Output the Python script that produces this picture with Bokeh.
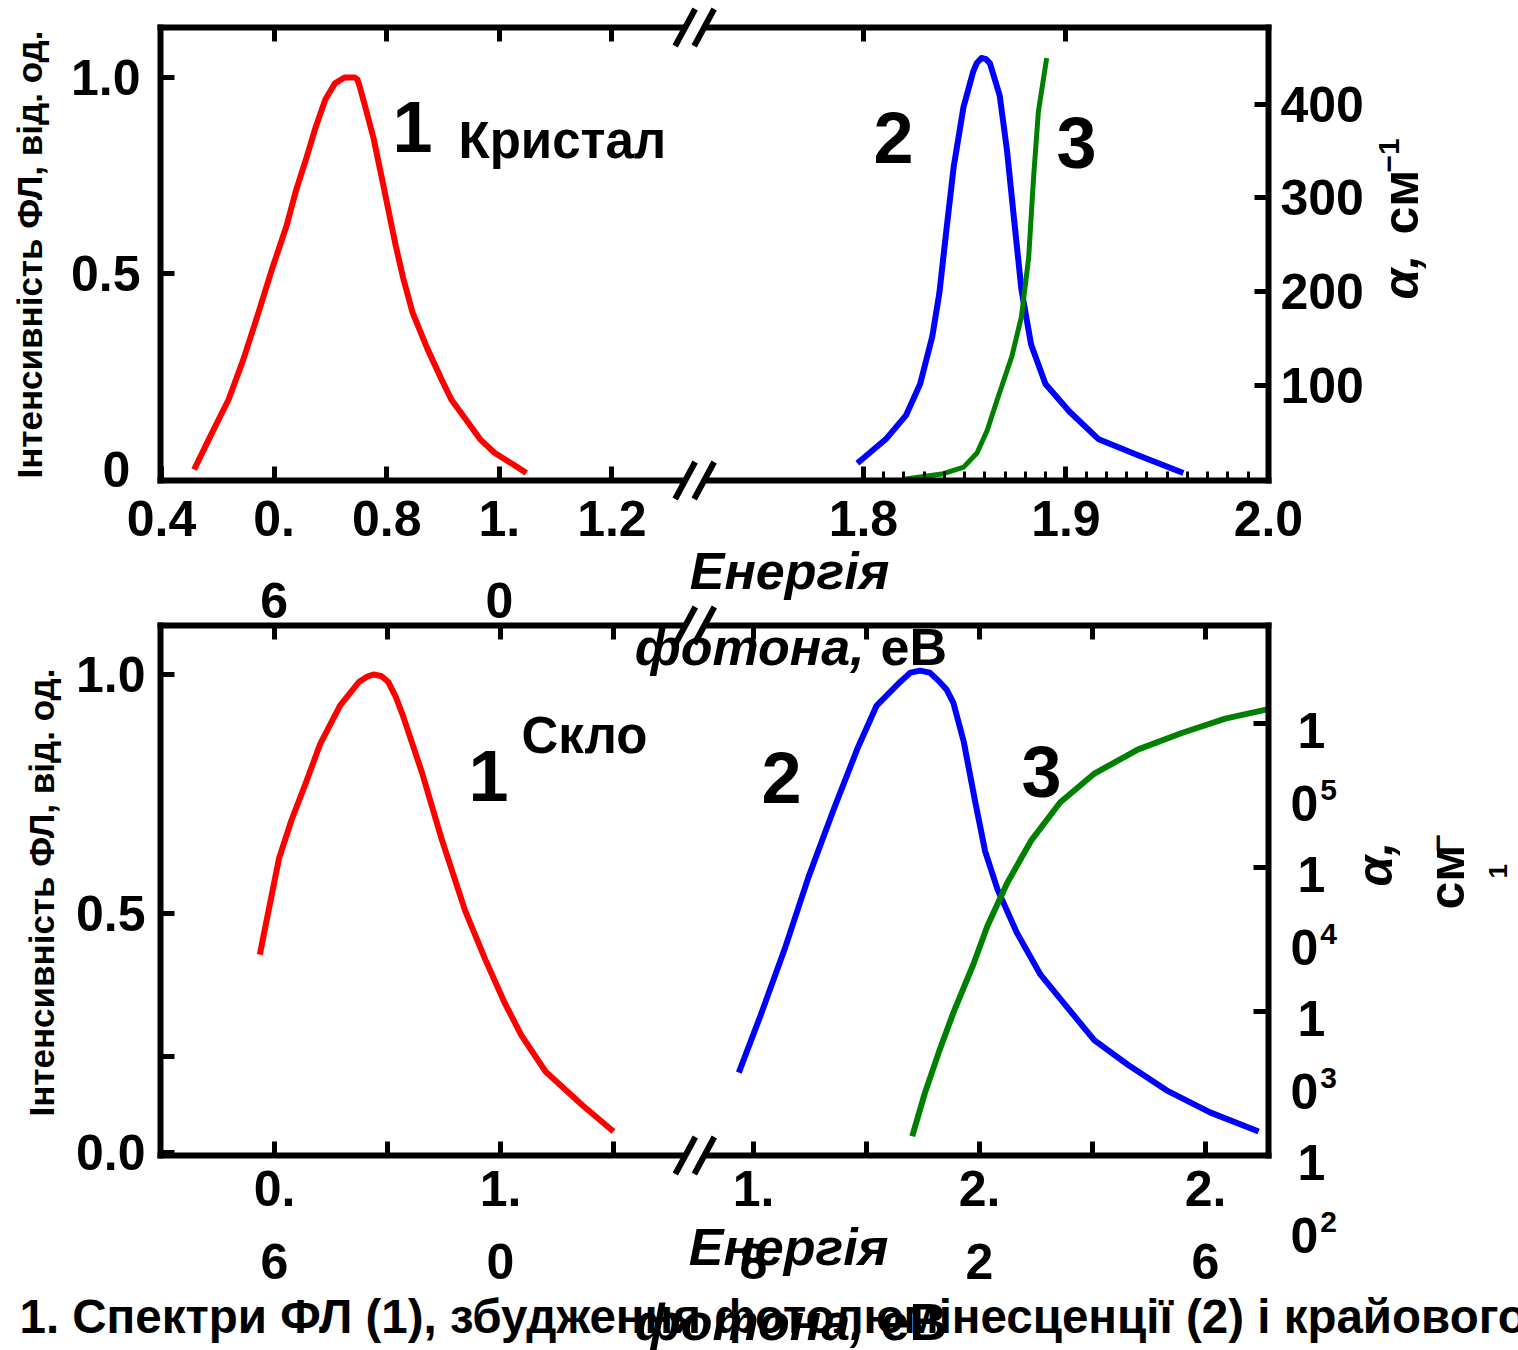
import math
from bokeh.plotting import figure
from bokeh.models import Range1d, LinearAxis, LogAxis, FixedTicker, Label, Arrow, LogScale
from bokeh.embed import file_html
from bokeh.resources import INLINE

FONT = "Liberation Sans"
RED, BLUE, GREEN = "#ff0000", "#0000ff", "#008000"

# ---------------- top panel: crystal ----------------
cr_pl_energy = [0.458, 0.484, 0.519, 0.545, 0.570, 0.596, 0.622, 0.639, 0.657, 0.674, 0.691, 0.708, 0.725, 0.743,
                0.748, 0.753, 0.764, 0.777, 0.790, 0.803, 0.816, 0.829, 0.846, 0.872, 0.898, 0.915, 0.941, 0.966,
                0.992, 1.027, 1.048]
cr_pl_intensity = [0.000, 0.077, 0.178, 0.279, 0.390, 0.510, 0.621, 0.712, 0.793, 0.874, 0.944, 0.985, 1.000, 1.000,
                   0.995, 0.972, 0.914, 0.843, 0.753, 0.662, 0.571, 0.490, 0.400, 0.309, 0.228, 0.178, 0.127, 0.077,
                   0.042, 0.011, -0.009]
cr_exc_energy = [1.797, 1.811, 1.821, 1.828, 1.834, 1.8375, 1.841, 1.8446, 1.8494, 1.8542, 1.856, 1.8583, 1.8605,
                 1.8625, 1.8673, 1.8709, 1.8745, 1.878, 1.8828, 1.8899, 1.9017, 1.9162, 1.9353, 1.958]
cr_exc_intensity = [0.016, 0.077, 0.138, 0.218, 0.339, 0.450, 0.612, 0.773, 0.924, 1.015, 1.037, 1.050, 1.047,
                    1.036, 0.954, 0.814, 0.633, 0.460, 0.319, 0.218, 0.148, 0.077, 0.037, -0.009]
cr_abs_energy = [1.820, 1.8395, 1.8495, 1.8561, 1.8611, 1.8661, 1.8733, 1.878, 1.8816, 1.884, 1.8864, 1.8905]
cr_abs_alpha = [0, 6, 13, 28, 52, 85, 131, 173, 236, 321, 392, 449]

# ---------------- bottom panel: glass ----------------
gl_pl_energy = [0.574, 0.591, 0.608, 0.630, 0.656, 0.681, 0.716, 0.750, 0.763, 0.775, 0.789, 0.801, 0.814, 0.827,
                0.861, 0.896, 0.938, 0.973, 1.007, 1.037, 1.080, 1.145, 1.200]
gl_pl_intensity = [0.414, 0.515, 0.615, 0.695, 0.775, 0.855, 0.935, 0.985, 0.995, 1.000, 0.997, 0.985, 0.955, 0.915,
                   0.795, 0.655, 0.504, 0.404, 0.314, 0.245, 0.169, 0.099, 0.044]
gl_exc_energy = [1.774, 1.812, 1.855, 1.897, 1.941, 1.984, 2.018, 2.060, 2.078, 2.095, 2.112, 2.129, 2.142, 2.154,
                 2.172, 2.193, 2.210, 2.232, 2.266, 2.308, 2.351, 2.403, 2.462, 2.531, 2.608, 2.694]
gl_exc_intensity = [0.167, 0.285, 0.425, 0.575, 0.715, 0.845, 0.935, 0.985, 1.004, 1.008, 1.004, 0.985, 0.968,
                    0.940, 0.860, 0.730, 0.630, 0.550, 0.460, 0.372, 0.310, 0.235, 0.184, 0.130, 0.084, 0.044]
gl_abs_energy = [2.081, 2.103, 2.129, 2.154, 2.189, 2.214, 2.249, 2.292, 2.343, 2.404, 2.481, 2.558, 2.635, 2.711]
gl_abs_alpha = [136, 269, 535, 986, 2120, 3930, 7800, 15500, 28400, 45100, 66100, 85900, 108000, 126000]

# ---------------- ticks & labels ----------------
top_ticks_left = [0.4, 0.6, 0.8, 1.0, 1.2]
top_labels_left = ["0.4", "0.", "0.8", "1.", "1.2"]
top_ticks_right = [1.8, 1.9, 2.0]
top_labels_right = ["1.8", "1.9", "2.0"]
top_minor_right = [round(1.80 + k / 100, 2) for k in range(1, 20) if k != 10]
top_wrap = {0.6: "6", 1.0: "0"}
top_int_ticks = [0.5, 1.0]
top_int_labels = ["0.5", "1.0"]
top_alpha_ticks = [100, 200, 300, 400]

bot_ticks_left = [0.6, 0.8, 1.0, 1.2]
bot_labels_left = ["0.", "", "1.", ""]
bot_ticks_right = [1.8, 2.0, 2.2, 2.4, 2.6]
bot_labels_right = ["1.", "", "2.", "", "2."]
bot_wrap_left = {0.6: "6", 1.0: "0"}
bot_wrap_right = {1.8: "8", 2.2: "2", 2.6: "6"}
bot_int_ticks = [0.0, 0.2, 0.5, 1.0]
bot_int_labels = ["0.0", "", "0.5", "1.0"]
bot_alpha_ticks = [1e2, 1e3, 1e4, 1e5]
bot_alpha_exp = ["2", "3", "4", "5"]

caption = "1. Спектри ФЛ (1), збудження фотолюмінесценції (2) і крайового"
ylabel = "Інтенсивність ФЛ, від. од."

# ---------------- geometry (page pixels) ----------------
W, H = 1518, 1350
BOX_L, BOX_R = 160, 1268
FW = BOX_R - BOX_L
TOP_T, TOP_B = 27, 480
BOT_T, BOT_B = 625, 1155

# axis extents of each panel box (value at left/bottom edge, value at right/top edge)
TOP_X = (0.39822, 2.36625)
TOP_X2 = (1.45284, 2.00005)
TOP_I = (-0.02806, 1.12755)
TOP_A = (-1.28, 481.66)
BOT_X = (0.39823, 2.35929)
BOT_X2 = (0.75044, 2.71150)
BOT_I = (-0.00628, 1.10251)
BOT_A = (100, 479300)
TOP_BREAK = 1.347
BOT_BREAK = 1.344


def xr_canvas(b):
    k = (b[1] - b[0]) / FW
    return Range1d(b[0] - BOX_L * k, b[1] + (W - BOX_R) * k)


def yr_canvas(b, top_px, bot_px, log=False):
    b0, b1 = (math.log10(b[0]), math.log10(b[1])) if log else b
    k = (b1 - b0) / (bot_px - top_px)
    s, e = b0 - (H - bot_px) * k, b1 + top_px * k
    if log:
        s, e = 10 ** s, 10 ** e
    return Range1d(s, e)


def to_main(e, seg, main):
    return main[0] + (e - seg[0]) * (main[1] - main[0]) / (seg[1] - seg[0])


def px_x(b, v):
    return BOX_L + (v - b[0]) / (b[1] - b[0]) * FW


p = figure(width=W, height=H, x_range=Range1d(0, W), y_range=Range1d(H, 0),
           x_axis_location=None, y_axis_location=None, min_border=0,
           extra_x_ranges={"tL": xr_canvas(TOP_X), "tR": xr_canvas(TOP_X2),
                           "bL": xr_canvas(BOT_X), "bR": xr_canvas(BOT_X2)},
           extra_y_ranges={"tI": yr_canvas(TOP_I, TOP_T, TOP_B), "tA": yr_canvas(TOP_A, TOP_T, TOP_B),
                           "bI": yr_canvas(BOT_I, BOT_T, BOT_B), "bA": yr_canvas(BOT_A, BOT_T, BOT_B, log=True)},
           extra_y_scales={"bA": LogScale()},
           output_backend="svg", toolbar_location=None)
p.grid.visible = False
p.outline_line_color = None


def frame_axis(side, xname, yname, loc, bounds, ticks, labels=None, minor=(), show=True, standoff=10,
               tick_in=14, log=False):
    cls = LogAxis if log else LinearAxis
    ax = cls(x_range_name=xname, y_range_name=yname, fixed_location=loc, bounds=bounds)
    ax.ticker = FixedTicker(ticks=list(ticks), minor_ticks=list(minor))
    if not show:
        labels = [""] * len(ticks)
    if labels is not None:
        ax.major_label_overrides = {t: l for t, l in zip(ticks, labels)}
    ax.axis_line_width = 6
    ax.axis_line_color = "black"
    ax.axis_line_cap = "square"
    ax.major_tick_in = tick_in
    ax.major_tick_out = 0
    ax.major_tick_line_width = 5
    ax.minor_tick_in = 9
    ax.minor_tick_out = 0
    ax.minor_tick_line_width = 3
    ax.major_label_text_font = FONT
    ax.major_label_text_font_style = "bold"
    ax.major_label_text_color = "black" if show else None
    ax.major_label_text_font_size = "50px" if show else "10px"
    ax.major_label_standoff = standoff
    p.add_layout(ax, side)


def txt(x, y, text, size, style="bold", align="center", angle=0.0):
    p.add_layout(Label(x=x, y=y, text=text, text_font=FONT, text_font_style=style,
                       text_font_size=f"{size}px", text_align=align, text_baseline="middle",
                       angle=angle, text_color="black"))


# =============== TOP PANEL (crystal) ===============
tb_ticks = top_ticks_left + [to_main(t, TOP_X2, TOP_X) for t in top_ticks_right]
tb_minor = [to_main(t, TOP_X2, TOP_X) for t in top_minor_right]
frame_axis("below", "tL", "tI", TOP_I[0], TOP_X, tb_ticks, top_labels_left + top_labels_right,
           minor=tb_minor, standoff=20)
frame_axis("above", "tL", "tI", TOP_I[1], TOP_X,
           top_ticks_left[1:] + [to_main(t, TOP_X2, TOP_X) for t in top_ticks_right[:2]], show=False)
frame_axis("left", "tL", "tI", TOP_X[0], TOP_I, top_int_ticks, top_int_labels, standoff=20)
frame_axis("right", "tL", "tA", TOP_X[1], TOP_A, top_alpha_ticks, [str(t) for t in top_alpha_ticks],
           standoff=12)

p.line(cr_pl_energy, cr_pl_intensity, line_color=RED, line_width=6, line_join="round",
       x_range_name="tL", y_range_name="tI")
p.line(cr_exc_energy, cr_exc_intensity, line_color=BLUE, line_width=6, line_join="round",
       x_range_name="tR", y_range_name="tI")
p.line(cr_abs_energy, cr_abs_alpha, line_color=GREEN, line_width=5, line_join="round",
       x_range_name="tR", y_range_name="tA")

# =============== BOTTOM PANEL (glass) ===============
bb_ticks = bot_ticks_left + [to_main(t, BOT_X2, BOT_X) for t in bot_ticks_right]
frame_axis("below", "bL", "bI", BOT_I[0], BOT_X, bb_ticks, bot_labels_left + bot_labels_right, standoff=15)
frame_axis("above", "bL", "bI", BOT_I[1], BOT_X, bb_ticks, show=False)
frame_axis("left", "bL", "bI", BOT_X[0], BOT_I, bot_int_ticks, bot_int_labels, standoff=15)
frame_axis("right", "bL", "bA", BOT_X[1], BOT_A, bot_alpha_ticks, show=False, tick_in=15, log=True)

p.line(gl_pl_energy, gl_pl_intensity, line_color=RED, line_width=6, line_join="round",
       x_range_name="bL", y_range_name="bI")
p.line(gl_exc_energy, gl_exc_intensity, line_color=BLUE, line_width=6, line_join="round",
       x_range_name="bR", y_range_name="bI")
p.line(gl_abs_energy, gl_abs_alpha, line_color=GREEN, line_width=6, line_join="round",
       x_range_name="bR", y_range_name="bA")


# =============== axis breaks ===============
def add_break(xc, y):
    p.add_layout(Arrow(end=None, x_start=xc - 9, y_start=y, x_end=xc + 9, y_end=y,
                       line_color="white", line_width=10))
    for off in (-9.5, 9.5):
        p.add_layout(Arrow(end=None, x_start=xc + off - 10, y_start=y + 18.5, x_end=xc + off + 10,
                           y_end=y - 18.5, line_color="black", line_width=6))


for y in (TOP_T, TOP_B):
    add_break(px_x(TOP_X, TOP_BREAK), y)
for y in (BOT_T, BOT_B):
    add_break(px_x(BOT_X, BOT_BREAK), y)

# =============== texts ===============
R90 = math.pi / 2
# top panel
txt(412, 126, "1", 72)
txt(458, 140, "Кристал", 51, align="left")
txt(893, 137, "2", 72)
txt(1076, 142, "3", 72)
txt(116, TOP_B - (0 - TOP_I[0]) / (TOP_I[1] - TOP_I[0]) * (TOP_B - TOP_T), "0", 50)
for t, s in top_wrap.items():
    txt(px_x(TOP_X, t), 600, s, 50)
txt(789, 570, "Енергія", 52, style="bold italic")
txt(864, 646, "фотона,", 52, style="bold italic", align="right")
txt(880, 646, "еВ", 52, align="left")
txt(29, 254, ylabel, 35, angle=R90)
txt(1400, 299, "α,", 50, style="bold italic", align="left", angle=R90)
txt(1400, 234, "см", 50, align="left", angle=R90)
txt(1388, 172, "−1", 30, align="left", angle=R90)

# bottom panel
txt(488, 775, "1", 72)
txt(521, 735, "Скло", 51, align="left")
txt(781, 777, "2", 72)
txt(1041, 771, "3", 72)
for t, s in bot_wrap_left.items():
    txt(px_x(BOT_X, t), 1261, s, 50)
for t, s in bot_wrap_right.items():
    txt(px_x(BOT_X2, t), 1261, s, 50)
txt(788, 1246, "Енергія", 52, style="bold italic")
txt(864, 1321, "фотона,", 52, style="bold italic", align="right")
txt(880, 1321, "еВ", 52, align="left")
txt(41, 892, ylabel, 35, angle=R90)

lo, hi = math.log10(BOT_A[0]), math.log10(BOT_A[1])
for t, e in zip(bot_alpha_ticks, bot_alpha_exp):
    py = BOT_B - (math.log10(t) - lo) / (hi - lo) * (BOT_B - BOT_T)
    txt(1311, py + 7, "1", 50)
    txt(1304, py + 80, "0", 50)
    txt(1328, py + 66, e, 30)
txt(1374, 886, "α,", 50, style="bold italic", align="left", angle=R90)
txt(1446, 909, "см", 50, align="left", angle=R90)
txt(1437, 851, "−", 30, align="left", angle=R90)
txt(1497, 878, "1", 26, align="left", angle=R90)
txt(19, 1316, caption, 47.5, align="left")

open("out.html", "w").write(file_html(p, INLINE))
